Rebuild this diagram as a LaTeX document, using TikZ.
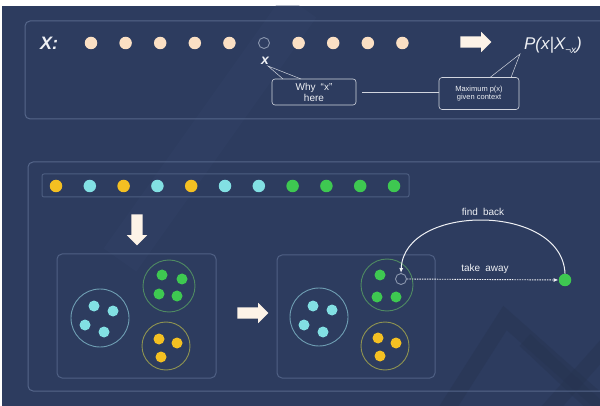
\documentclass[tikz,border=0pt]{standalone}
\usepackage{fontspec}
\setmainfont{Liberation Sans}
\usetikzlibrary{arrows.meta,positioning,shapes.arrows}
\definecolor{bgnavy}{HTML}{2D3C5F}
\definecolor{bgdeep}{HTML}{26334F}
\definecolor{bglight}{HTML}{34456A}
\definecolor{panelline}{HTML}{55668A}
\definecolor{inkwhite}{HTML}{EEF0F4}
\definecolor{peach}{HTML}{FBE0C4}
\definecolor{aqua}{HTML}{82E0E3}
\definecolor{gold}{HTML}{F4C022}
\definecolor{leaf}{HTML}{3EC851}
\definecolor{aquaring}{HTML}{6E9DB2}
\definecolor{leafring}{HTML}{4F8A62}
\definecolor{goldring}{HTML}{8E9350}
\definecolor{holering}{HTML}{8A96AE}

\begin{document}
\begin{tikzpicture}[x=1pt,y=-1pt,
    frame/.style={draw=panelline,line width=1pt,rounded corners=5pt},
    bead/.style={circle,fill=#1,inner sep=0pt,minimum size=12.5pt},
    seed/.style={circle,fill=#1,inner sep=0pt,minimum size=11pt},
    hollow/.style={circle,draw=holering,line width=0.9pt,inner sep=0pt,minimum size=11pt},
    ring/.style={circle,draw=#1,line width=0.9pt,inner sep=0pt},
    callout/.style={draw=inkwhite!85!bgnavy,rounded corners=3pt,line width=0.6pt,
      align=center,text=inkwhite,inner sep=2pt},
    link/.style={inkwhite!85!bgnavy,line width=0.5pt},
    bigarrow/.style={single arrow,fill=peach!40!white,inner sep=5.5pt,
      single arrow head extend=4.5pt,minimum height=31pt},
    note/.style={text=inkwhite,font=\fontsize{10}{11}\selectfont}]
  % canvas
  \fill[white] (0,0) rectangle (600,406);
  \useasboundingbox (0,0) rectangle (600,406);
  \begin{scope}
    \clip (2,6) rectangle (600,406);
    \fill[bgnavy] (2,6) rectangle (600,406);
    \draw[bglight,line width=40pt,opacity=0.3] (300,6) -- (120,260);
    \draw[bgdeep,line width=16pt,opacity=0.4] (440,420) -- (505,318) -- (620,420);
    \draw[bgdeep,line width=16pt,opacity=0.4] (525,340) -- (610,420);
    \draw[bgdeep,line width=16pt,opacity=0.4] (620,330) -- (540,420);
    \draw[frame] (25,21) rectangle (640,119);
    \draw[frame] (28,162) rectangle (640,391);
  \end{scope}

  % masked sequence
  \node[text=inkwhite,font=\fontsize{18}{18}\selectfont\bfseries\itshape] (xlabel) at (49,43) {X:};
  \foreach \x/\n in {91/a,125.6/b,160.2/c,194.8/d,229.4/e,298.6/g,333.2/h,367.8/i,402.4/j}
    \node[bead=peach] (t\n) at (\x,43) {};
  \node[hollow] (tf) at (264,43) {};
  \node[text=inkwhite,font=\fontsize{14}{14}\selectfont\bfseries\itshape] (xmark) at (265,61) {x};
  \node[bigarrow] (toprob) at (473,42) {};
  \node[text=inkwhite,font=\fontsize{17}{17}\selectfont\itshape] (prob) at (553,45)
    {P(x|X\raisebox{-0.45ex}{\fontsize{10}{10}\selectfont\upshape¬\itshape x})};

  \node[callout,font=\fontsize{10}{11}\selectfont,minimum width=84pt,minimum height=26pt] (why) at (314,92)
    {Why\enspace ``x''\\here};
  \node[callout,font=\fontsize{7.5}{8.5}\selectfont,minimum width=80pt,minimum height=32pt] (maxp) at (479,93.5)
    {Maximum p(x)\\given context};
  \draw[link] (why.east) ++(6,0) coordinate (wl) -- (wl -| maxp.west);
  \coordinate (xtip) at (268,66);
  \draw[link] (283,79) -- (xtip) -- (301,79);
  \coordinate (ptip) at (520,54);
  \draw[link] (490,77.5) -- (ptip) -- (511,77.5);

  % labelled sequence
  \draw[frame,rounded corners=2pt,draw=panelline!80!bgnavy] (42,174) rectangle (409,197);
  \foreach \x/\c [count=\k] in {56/gold,89.8/aqua,123.6/gold,157.4/aqua,191.2/gold,225/aqua,
      258.8/aqua,292.6/leaf,326.4/leaf,360.2/leaf,394/leaf}
    \node[bead=\c] (s\k) at (\x,186) {};
  \node[bigarrow,shape border rotate=270] (tosplit) at (137,227) {};

  % grouped classes
  \draw[frame,draw=panelline!85!bgnavy] (57,254) rectangle (216,378);
  \node[ring=aquaring,minimum size=58pt] (gca) at (100,318) {};
  \node[ring=leafring,minimum size=52pt] (gcb) at (169,286) {};
  \node[ring=goldring,minimum size=48pt] (gcc) at (166,346) {};
  \foreach \x/\y in {94/306,113/311,85/325,104/332}
    \node[seed=aqua] at (\x,\y) {};
  \foreach \x/\y in {162/275,182/279,159/294,177/296}
    \node[seed=leaf] at (\x,\y) {};
  \foreach \x/\y in {159/339,177/343,161/357}
    \node[seed=gold] at (\x,\y) {};
  \node[bigarrow] (tomove) at (250,313) {};

  \draw[frame,draw=panelline!85!bgnavy] (277,255) rectangle (435,378);
  \node[ring=aquaring,minimum size=58pt] (hca) at (319,317) {};
  \node[ring=leafring,minimum size=52pt] (hcb) at (387,285) {};
  \node[ring=goldring,minimum size=48pt] (hcc) at (385,346) {};
  \foreach \x/\y in {313/306,332/310,304/325,323/332}
    \node[seed=aqua] at (\x,\y) {};
  \foreach \x/\y in {380/275,377/297,396/297}
    \node[seed=leaf] at (\x,\y) {};
  \foreach \x/\y in {378/338,396/343,380/356}
    \node[seed=gold] at (\x,\y) {};
  \node[hollow] (hole) at (401,279) {};
  \node[bead=leaf] (gout) at (565,280) {};

  \draw[inkwhite,line width=0.9pt,dash pattern=on 1.5pt off 1pt,-{Latex[length=5pt,width=4pt]}]
    (hole.east) -- (gout.west);
  \node[note,anchor=south] (lbltake) at (485,277) {take\enspace away};
  \draw[inkwhite,line width=1pt,-{Latex[length=5pt,width=4pt]}]
    (gout.north) .. controls (562,203) and (404,203) .. (hole.north);
  \node[note,anchor=south] (lblfind) at (483,219) {find\enspace back};
\end{tikzpicture}
\end{document}
